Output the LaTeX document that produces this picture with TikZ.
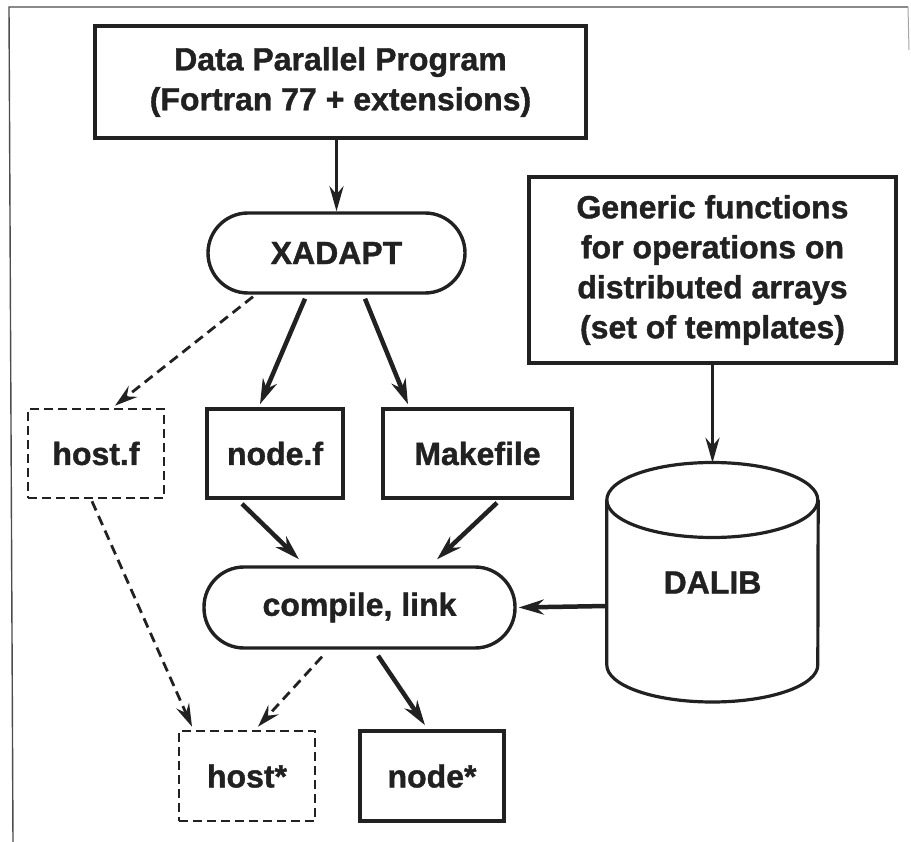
\documentclass[tikz,border=0pt]{standalone}
\usepackage{fontspec}
\setmainfont{Liberation Sans}[BoldFeatures={FakeBold=1.2}]
\usetikzlibrary{arrows.meta}
\definecolor{ink}{rgb}{0.13,0.13,0.13}
\begin{document}
\begin{tikzpicture}[x=1pt,y=-1pt,
  every node/.style={font=\fontsize{32}{40}\selectfont\bfseries, text=ink, inner sep=0pt, align=center},
  box/.style={draw=ink, line width=3.6pt, minimum width=#1},
  pill/.style={draw=ink, line width=3.4pt, rounded corners=40pt, minimum width=#1, minimum height=80pt},
  dbox/.style={draw=ink, line width=2.6pt, dash pattern=on 9pt off 5pt, minimum width=#1, minimum height=90pt},
  arr/.style={draw=ink, line width=4.5pt, -{Stealth[length=25pt,width=15pt,inset=8pt]}},
  thinarr/.style={draw=ink, line width=3.6pt, -{Stealth[length=25pt,width=14pt,inset=8pt]}},
  darr/.style={draw=ink, line width=2.8pt, dash pattern=on 10pt off 6pt, -{Stealth[length=23pt,width=14pt,inset=8pt]}},
  frame/.style={draw=black!70, line width=1.4pt}
]
\useasboundingbox (0,0) rectangle (911,842);
% frame
\coordinate (fTL) at (9,7);
\coordinate (fTR) at (908,7);
\coordinate (fBL) at (13,842);
\coordinate (fRB) at (909,50);
\draw[frame] (fBL) -- (fTL) -- (fTR);
\draw[draw=black!35, line width=1pt] (fTR) -- (fRB);

% nodes
\node[box=491pt, minimum height=112pt] (top) at (340.5,82) {Data Parallel Program\\(Fortran 77 + extensions)};
\node[pill=257pt] (xadapt) at (336.5,253) {XADAPT};
\node[box=367pt, minimum height=186pt] (generic) at (712.5,270) {Generic functions\\for operations on\\distributed arrays\\(set of templates)};
\node[dbox=136pt, minimum height=89pt] (hostf) at (96,453.5) {host.f};
\node[box=136pt, minimum height=89pt] (nodef) at (275,453.5) {node.f};
\node[box=189pt, minimum height=89pt] (makefile) at (477.5,453.5) {Makefile};
% DALIB cylinder
\node[minimum width=211pt, minimum height=239pt] (dalib) at (712.5,582.5) {DALIB};
\draw[ink, line width=3.2pt] (dalib.west |- 0,500) arc[start angle=180, end angle=-180, x radius=105.5pt, y radius=37.5pt];
\draw[ink, line width=3.2pt] (dalib.west |- 0,500) -- (dalib.west |- 0,665)
  arc[start angle=180, end angle=360, x radius=105.5pt, y radius=37pt] -- (dalib.east |- 0,500);
\node[pill=311pt, minimum height=81pt] (compile) at (359.5,607.5) {compile, link};
\node[dbox=136pt] (hoststar) at (247,776) {host*};
\node[box=144pt, minimum height=90pt] (nodestar) at (432,776) {node*};

% connectors
\draw[thinarr] (xadapt.north |- top.south) -- (xadapt.north);
\draw[darr] ([xshift=-83.5pt,yshift=-2pt]xadapt.south) -- ([xshift=19pt,yshift=2pt]hostf.north);
\draw[arr] ([xshift=-31.5pt,yshift=-4pt]xadapt.south) -- ([xshift=-15pt,yshift=3pt]nodef.north);
\draw[arr] ([xshift=28.5pt,yshift=-4pt]xadapt.south) -- ([xshift=-69.5pt,yshift=3pt]makefile.north);
\draw[thinarr] (dalib.north |- generic.south) -- (dalib.north);
\draw[arr] ([xshift=-33pt,yshift=-4pt]nodef.south) -- ([xshift=-60.5pt,yshift=6pt]compile.north);
\draw[arr] ([xshift=19.5pt,yshift=-3pt]makefile.south) -- ([xshift=77.5pt,yshift=6pt]compile.north);
\draw[arr] ([yshift=-23.5pt]dalib.west) -- ([xshift=2pt]compile.east);
\draw[darr] ([xshift=-4pt,yshift=-2pt]hostf.south) -- ([xshift=-55pt,yshift=3pt]hoststar.north);
\draw[darr] ([xshift=-37.5pt,yshift=-7pt]compile.south) -- ([xshift=11pt,yshift=3pt]hoststar.north);
\draw[arr] ([xshift=18.5pt,yshift=-6pt]compile.south) -- ([xshift=-7pt,yshift=4pt]nodestar.north);
\end{tikzpicture}
\end{document}
